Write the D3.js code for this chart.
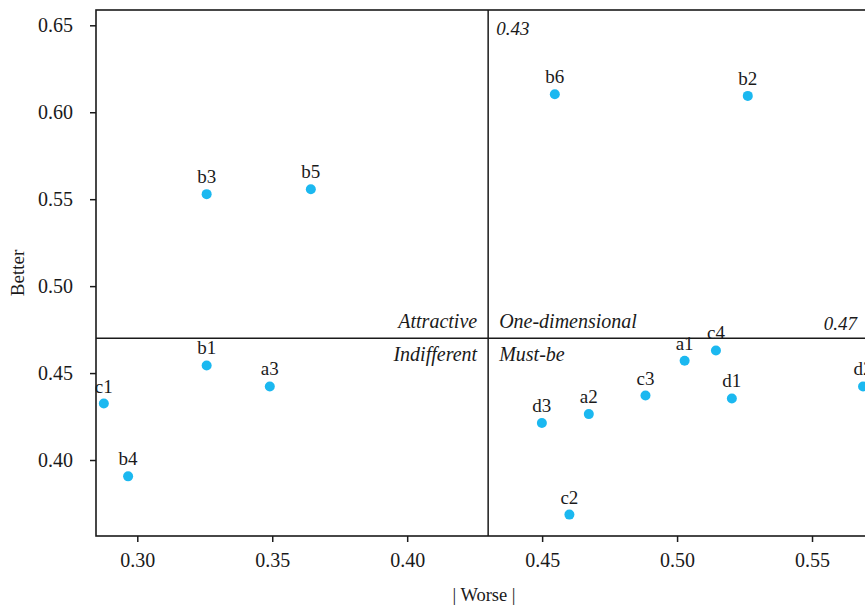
<!DOCTYPE html>
<html>
<head>
<meta charset="utf-8">
<script src="https://cdn.jsdelivr.net/npm/d3@7"></script>
<style>
  html, body { margin: 0; padding: 0; background: #fff; overflow: hidden; }
  text { font-family: "Liberation Serif", "DejaVu Serif", serif; fill: #1a1a1a; }
</style>
</head>
<body>
<div id="chart"></div>
<script>
// points: label, |Worse| (x), Better (y)
var names  = ["a1", "a2", "a3", "b1", "b2", "b3", "b4", "b5", "b6", "c1", "c2", "c3", "c4", "d1", "d2", "d3"];
var worse  = [0.5028, 0.4673, 0.3491, 0.3257, 0.5262, 0.3257, 0.2966, 0.3643, 0.4547, 0.2876, 0.4601, 0.4883, 0.5144, 0.5203, 0.5689, 0.4499];
var better = [0.4571, 0.4264, 0.4423, 0.4544, 0.6094, 0.5529, 0.3906, 0.5557, 0.6103, 0.4325, 0.3686, 0.4371, 0.4630, 0.4354, 0.4423, 0.4213];

var xTicks = [0.30, 0.35, 0.40, 0.45, 0.50, 0.55];
var yTicks = [0.40, 0.45, 0.50, 0.55, 0.60, 0.65];

// quadrant split values
var worseMean = 0.43,
    betterMean = 0.47;

var margin = { top: 10, right: 0, bottom: 71, left: 96 },
    width = 770,
    height = 526;

var svg = d3.select("#chart").append("svg")
    .attr("width", 865)
    .attr("height", 607);

var g = svg.append("g")
    .attr("transform", "translate(" + margin.left + "," + margin.top + ")");

var x = d3.scaleLinear().domain([0.2847, 0.5700]).range([0, width]);
var y = d3.scaleLinear().domain([0.3563, 0.6588]).range([height, 0]);

// axes
var xAxis = d3.axisBottom(x).tickValues(xTicks).tickFormat(d3.format(".2f")).tickSize(6).tickPadding(11);
var yAxis = d3.axisLeft(y).tickValues(yTicks).tickFormat(d3.format(".2f")).tickSize(6).tickPadding(17);

var gx = g.append("g")
    .attr("transform", "translate(0," + height + ")")
    .call(xAxis);
var gy = g.append("g").call(yAxis);

[gx, gy].forEach(function (a) {
    a.select(".domain").remove();
    a.selectAll("line").attr("stroke", "#1a1a1a").attr("stroke-width", 1.5);
    a.selectAll("text")
        .style("font-family", "'Liberation Serif', serif")
        .style("font-size", "20px")
        .attr("fill", "#1a1a1a");
});

// frame
g.append("rect")
    .attr("x", 0).attr("y", 0)
    .attr("width", width).attr("height", height)
    .attr("fill", "none")
    .attr("stroke", "#1a1a1a")
    .attr("stroke-width", 1.6);

// quadrant lines
g.append("line")
    .attr("x1", x(worseMean)).attr("x2", x(worseMean))
    .attr("y1", 0).attr("y2", height)
    .attr("stroke", "#1a1a1a").attr("stroke-width", 1.5);
g.append("line")
    .attr("x1", 0).attr("x2", width)
    .attr("y1", y(betterMean)).attr("y2", y(betterMean))
    .attr("stroke", "#1a1a1a").attr("stroke-width", 1.5);

// value labels on the split lines
g.append("text")
    .attr("x", x(worseMean) + 8).attr("y", 25)
    .style("font-style", "italic").style("font-size", "19px")
    .text(worseMean.toFixed(2));
g.append("text")
    .attr("x", width - 9).attr("y", y(betterMean) - 8)
    .attr("text-anchor", "end")
    .style("font-style", "italic").style("font-size", "19px")
    .text(betterMean.toFixed(2));

// quadrant names
var quads = [
    { t: "Attractive", side: -1, dy: -10 },
    { t: "One-dimensional", side: 1, dy: -10 },
    { t: "Indifferent", side: -1, dy: 23 },
    { t: "Must-be", side: 1, dy: 23 }
];
g.selectAll(".quad")
    .data(quads)
    .enter().append("text")
    .attr("class", "quad")
    .attr("x", function (d) { return x(worseMean) + d.side * 11; })
    .attr("y", function (d) { return y(betterMean) + d.dy; })
    .attr("text-anchor", function (d) { return d.side < 0 ? "end" : "start"; })
    .style("font-style", "italic")
    .style("font-size", "20px")
    .text(function (d) { return d.t; });

// points
var pts = names.map(function (n, i) { return { name: n, x: worse[i], y: better[i] }; });

g.selectAll(".dot")
    .data(pts)
    .enter().append("circle")
    .attr("class", "dot")
    .attr("cx", function (d) { return x(d.x); })
    .attr("cy", function (d) { return y(d.y); })
    .attr("r", 5)
    .attr("fill", "#1bb8f0");

g.selectAll(".lbl")
    .data(pts)
    .enter().append("text")
    .attr("class", "lbl")
    .attr("x", function (d) { return x(d.x); })
    .attr("y", function (d) { return y(d.y) - 11; })
    .attr("text-anchor", "middle")
    .style("font-size", "19px")
    .text(function (d) { return d.name; });

// axis titles
svg.append("text")
    .attr("transform", "translate(24," + (margin.top + height / 2) + ") rotate(-90)")
    .attr("text-anchor", "middle")
    .style("font-size", "19px")
    .text("Better");

svg.append("text")
    .attr("x", 484).attr("y", 601)
    .attr("text-anchor", "middle")
    .style("font-size", "18.5px")
    .text("| Worse |");
</script>
</body>
</html>
